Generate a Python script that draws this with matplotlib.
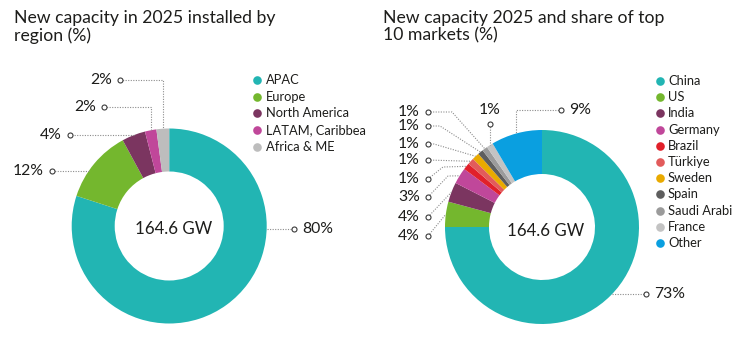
import numpy as np
import matplotlib
matplotlib.use('Agg')
import matplotlib.pyplot as plt

W, H = 745, 353
FONT = 'Lato'
TXT = '#1d1d1b'
LINE = '#8c8c8c'

# ---- data: left donut (regions) ----
regions = ['APAC', 'Europe', 'North America', 'LATAM, Caribbea', 'Africa & ME']
region_share = [80.0, 12.1, 3.9, 1.9, 2.1]
region_labels = ['80%', '12%', '4%', '2%', '2%']
region_colors = ['#22b5b3', '#74b72e', '#7b3560', '#c0479a', '#bdbdbd']

# ---- data: right donut (markets) ----
markets = ['China', 'US', 'India', 'Germany', 'Brazil', 'Türkiye', 'Sweden',
           'Spain', 'Saudi Arabi', 'France', 'Other']
market_share = [75.0, 4.2, 3.3, 2.7, 1.1, 1.1, 1.2, 0.9, 0.9, 1.1, 8.5]
market_labels = ['73%', '4%', '4%', '3%', '1%', '1%', '1%', '1%', '1%', '1%', '9%']
market_colors = ['#22b5b3', '#74b72e', '#7b3560', '#c0479a', '#e1202a', '#e25b5b',
                 '#e9aa00', '#5e5e5e', '#9b9b9b', '#c3c3c3', '#0a9fe0']

center_text = '164.6 GW'
title_left = ['New capacity in 2025 installed by', 'region (%)']
title_right = ['New capacity 2025 and share of top', '10 markets (%)']

fig = plt.figure(figsize=(W / 100, H / 100), dpi=100)
ax = fig.add_axes([0, 0, 1, 1])

LABEL_FS = 11.3


def Y(p):
    return H - p


def donut(values, colors, cx, cy, r, width):
    wedges, _ = ax.pie(values, colors=colors, radius=r, center=(cx, Y(cy)),
                       startangle=90, counterclock=False, frame=True,
                       wedgeprops=dict(width=width, edgecolor='none', linewidth=0))
    return wedges


def mid_point(w, cx, cy, r):
    a = np.deg2rad((w.theta1 + w.theta2) / 2)
    return cx + r * np.cos(a), cy - r * np.sin(a)


def ring_at_y(cx, cy, r, y, side):
    dx = np.sqrt(max(r * r - (y - cy) ** 2, 0))
    return cx + side * dx


def leader(pts, circle, text, side, fs=LABEL_FS):
    xs = [p[0] for p in pts]
    ys = [Y(p[1]) for p in pts]
    ax.plot(xs, ys, color=LINE, lw=0.8, ls=(0, (1, 1.3)), zorder=3)
    ax.plot(circle[0], Y(circle[1]), marker='o', ms=3.6, mfc='white',
            mec='#3a3a3a', mew=0.8, zorder=4)
    if side == 'left':
        ax.text(circle[0] - 8, Y(circle[1]), text, ha='right', va='center',
                fontsize=fs, color=TXT, family=FONT)
    elif side == 'right':
        ax.text(circle[0] + 8, Y(circle[1]), text, ha='left', va='center',
                fontsize=fs, color=TXT, family=FONT)
    else:
        ax.text(circle[0], Y(circle[1] - 14), text, ha='center', va='center',
                fontsize=fs, color=TXT, family=FONT)


# ---------------- left donut ----------------
LCX, LCY, LR = 169.2, 226, 97.5
lw = donut(region_share, region_colors, LCX, LCY, LR, 43)
ax.text(LCX + 4, Y(LCY + 3), center_text, ha='center', va='center',
        fontsize=12.2, color=TXT, family=FONT)

# APAC (right)
y = 229
leader([(ring_at_y(LCX, LCY, LR, y, 1), y), (294, y)], (294, y), region_labels[0], 'right')
# Europe, North America (horizontal to ring)
for i, (y, cxl) in zip([1, 2], [(171, 52), (135, 70)]):
    leader([(ring_at_y(LCX, LCY, LR, y, -1), y), (cxl, y)], (cxl, y), region_labels[i], 'left')
# LATAM, Africa (elbow down to wedge)
for i, (y, cxl) in zip([3, 4], [(107, 104), (80, 120)]):
    px, py = mid_point(lw[i], LCX, LCY, LR)
    leader([(cxl, y), (px, y), (px, py)], (cxl, y), region_labels[i], 'left')

# left legend
for k, (name, col) in enumerate(zip(regions, region_colors)):
    yy = 80 + k * 16.7
    ax.plot(257, Y(yy), marker='o', ms=6.2, color=col, mec='none')
    ax.text(266, Y(yy), name, ha='left', va='center', fontsize=9.3,
            color=TXT, family=FONT)

# ---------------- right donut ----------------
RCX, RCY, RR = 542, 227, 97
rw = donut(market_share, market_colors, RCX, RCY, RR, 44)
ax.text(RCX + 4, Y(RCY + 4), center_text, ha='center', va='center',
        fontsize=12.2, color=TXT, family=FONT)

# China (right)
y = 294
leader([(ring_at_y(RCX, RCY, RR, y, 1), y), (646, y)], (646, y), market_labels[0], 'right')
# Other (elbow)
px, py = mid_point(rw[10], RCX, RCY, RR)
leader([(561, 110), (px, 110), (px, py)], (561, 110), market_labels[10], 'right')
# France (top label)
px, py = mid_point(rw[9], RCX, RCY, RR)
leader([(px, 124), (px, py)], (px, 124), market_labels[9], 'top')
# left-side labels
left_specs = {8: (112, (452, 112)), 7: (126, (440, 126)), 6: (144, (434, 144)),
              5: (160, None), 4: (179, (443, 167)), 3: (197, (448, 176)),
              2: (217, None), 1: (236, None)}
for i, (y, elbow) in left_specs.items():
    px, py = mid_point(rw[i], RCX, RCY, RR)
    pts = [(428, y)] + ([elbow] if elbow else []) + [(px, py)]
    leader(pts, (428, y), market_labels[i], 'left')

# right legend
for k, (name, col) in enumerate(zip(markets, market_colors)):
    yy = 81 + k * 16.2
    ax.plot(660, Y(yy), marker='o', ms=6.2, color=col, mec='none')
    ax.text(668, Y(yy), name, ha='left', va='center', fontsize=9.3,
            color=TXT, family=FONT)

# titles (two lines each, explicit baselines)
for x0, lines in [(14, title_left), (383, title_right)]:
    for j, line in enumerate(lines):
        ax.text(x0, Y(22.7 + 18 * j), line, ha='left', va='baseline',
                fontsize=12.7, color=TXT, family=FONT)

ax.set_xlim(0, W)
ax.set_ylim(0, H)
ax.set_aspect('equal')
ax.axis('off')
fig.savefig('out.png', dpi=100, facecolor='white')
